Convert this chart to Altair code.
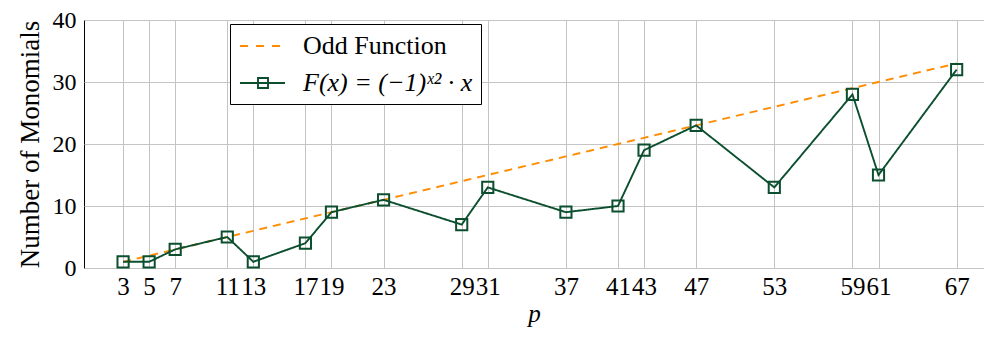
import altair as alt
import pandas as pd

primes = [3, 5, 7, 11, 13, 17, 19, 23, 29, 31, 37, 41, 43, 47, 53, 59, 61, 67]
odd_values = [1, 2, 3, 5, 6, 8, 9, 11, 14, 15, 18, 20, 21, 23, 26, 29, 30, 33]
f_values = [1, 1, 3, 5, 1, 4, 9, 11, 7, 13, 9, 10, 19, 23, 13, 28, 15, 32]
y_ticks = [0, 10, 20, 30, 40]

ODD = "Odd Function"
FX = "F(x) = (\u22121)\u02e3\u00b2 \u00b7 x"
series_names = [ODD, FX]
series_colors = {ODD: "#ff8c00", FX: "#0b4f2f"}
series_dash = {ODD: [8, 6], FX: [1, 0]}
colors = [series_colors[s] for s in series_names]

df = pd.DataFrame(
    {"p": primes * 2,
     "v": odd_values + f_values,
     "s": [ODD] * len(primes) + [FX] * len(primes)}
)
df_f = df[df["s"] == FX]

FONT = "Liberation Serif"

x = alt.X("p:Q", scale=alt.Scale(domain=[0, 69.1], nice=False, zero=False),
          axis=alt.Axis(values=primes, labelOverlap=False, labelFlush=False,
                        title="p", titleFontStyle="italic"))
y = alt.Y("v:Q", scale=alt.Scale(domain=[0, 40], nice=False),
          axis=alt.Axis(values=y_ticks, title="Number of Monomials", labelFontSize=24,
                        titleFontSize=27))

# data-derived (alphabetical) domain for the plotting scales, so they stay separate from the legend scales
alpha = sorted(series_names)
color_nolegend = alt.Color("s:N", scale=alt.Scale(range=[series_colors[s] for s in alpha]), legend=None)

lines = alt.Chart(df).mark_line(strokeWidth=1.9).encode(
    x=x, y=y, color=color_nolegend,
    strokeDash=alt.StrokeDash("s:N", scale=alt.Scale(range=[series_dash[s] for s in alpha]), legend=None),
)

points = alt.Chart(df_f).mark_point(shape="square", filled=False, size=125, strokeWidth=2, opacity=1).encode(
    x=x, y=y, color=color_nolegend,
)

# legend glyphs (unit = 13 px)
dash_path = "M-1.692,0L-1.077,0M-0.462,0L0.154,0M0.769,0L1.385,0"
sq_path = "M-1.692,0L1.769,0M-0.308,-0.385L0.462,-0.385L0.462,0.385L-0.308,0.385Z"

legend = alt.Legend(
    title=None, orient="none", legendX=146, legendY=4,
    strokeColor="black", fillColor="white", padding=8, cornerRadius=0,
    labelFont=FONT, labelFontSize=26, labelOffset=27, labelLimit=400,
    labelFontStyle=alt.ExprRef("datum.label == 'Odd Function' ? 'normal' : 'italic'"),
    symbolSize=676, symbolOffset=10, symbolStrokeWidth=1.9, symbolOpacity=1,
    symbolFillColor="transparent", rowPadding=10,
)

legend_layer = alt.Chart(df).transform_filter("false").mark_point(filled=False, opacity=1).encode(
    x=x, y=y,
    stroke=alt.Stroke("s:N", scale=alt.Scale(domain=series_names, range=colors), legend=legend),
    shape=alt.Shape("s:N", scale=alt.Scale(domain=series_names, range=[dash_path, sq_path]), legend=legend),
)

chart = alt.layer(lines, points, legend_layer).properties(
    width=900, height=248,
    autosize=alt.AutoSizeParams(type="none"),
    padding={"left": 76, "top": 12, "right": 0, "bottom": 62},
).configure_view(
    stroke="black", strokeWidth=1
).configure_axis(
    labelFont=FONT, titleFont=FONT, labelFontSize=25, titleFontSize=25,
    titleFontWeight="normal", labelColor="black", titleColor="black",
    grid=True, gridColor="#c4c4c4", gridWidth=1, ticks=False, domain=False,
).configure_axisX(
    labelPadding=6, titlePadding=2,
).configure_axisY(
    labelPadding=8, titlePadding=8,
)

chart.save("out.html", embed_options={"renderer": "svg", "actions": False})
